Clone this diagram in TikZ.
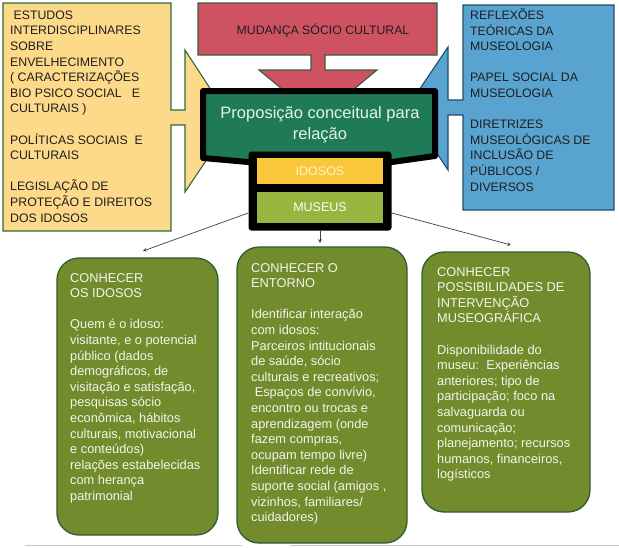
\documentclass[tikz,border=0pt]{standalone}
\usepackage{fontspec}
\setmainfont{Liberation Sans}
\usetikzlibrary{positioning}
\definecolor{callyellow}{HTML}{FDD98A}
\definecolor{yellowbd}{HTML}{2E6B3A}
\definecolor{callred}{HTML}{CF5262}
\definecolor{redbd}{HTML}{3C5A40}
\definecolor{callblue}{HTML}{59A3D0}
\definecolor{bluebd}{HTML}{1F4D6A}
\definecolor{propgreen}{HTML}{1F7A58}
\definecolor{proptext}{HTML}{E4F4E4}
\definecolor{tagyellow}{HTML}{FBC73A}
\definecolor{tagyellowink}{HTML}{FFF2C8}
\definecolor{tagolive}{HTML}{98B540}
\definecolor{olivefill}{HTML}{728C2D}
\definecolor{olivebd}{HTML}{2C5E2E}
\definecolor{boxink}{HTML}{F4F4EA}
\definecolor{inkdark}{HTML}{1E1E1E}
\definecolor{linkgray}{HTML}{404040}
\begin{document}
\begin{tikzpicture}[x=1pt,y=-1pt,>=stealth,
  callout/.style={line width=1.1pt,line join=miter},
  captxt/.style={font=\fontsize{12.3}{15.6}\selectfont,align=left,inner sep=0pt,anchor=north west,text=inkdark},
  greenbox/.style={draw=olivebd,fill=olivefill,line width=1.3pt,rounded corners=22pt,inner sep=0pt},
  boxtxt/.style={font=\fontsize{12.8}{15.6}\selectfont,align=left,inner sep=0pt,anchor=north west,text=boxink},
  tag/.style={minimum width=126,minimum height=26,inner sep=0pt,font=\fontsize{12.5}{15}\selectfont},
  link/.style={draw=linkgray,line width=0.7pt}]
\useasboundingbox (0,0) rectangle (619,547);

\draw[callout,draw=yellowbd,fill=callyellow] (3,3) -- (171,3) -- (171,110) -- (185,110) -- (185,50) -- (232,122) -- (185,192) -- (185,125) -- (171,125) -- (171,231) -- (3,231) -- cycle;
\draw[callout,draw=redbd,fill=callred] (198,3) -- (437,3) -- (437,55) -- (325,55) -- (325,70) -- (377,70) -- (318,119) -- (259,70) -- (311,70) -- (311,55) -- (198,55) -- cycle;
\draw[callout,draw=bluebd,fill=callblue] (463,5) -- (614,5) -- (614,210) -- (463,210) -- (463,115) -- (448,115) -- (448,170) -- (407,108) -- (448,47) -- (448,100) -- (463,100) -- cycle;

\node[captxt] (estudos) at (10,10.5) {\ ESTUDOS\\
INTERDISCIPLINARES\\
SOBRE\\
ENVELHECIMENTO\\
( CARACTERIZAÇÕES\\
BIO PSICO SOCIAL\ \ \ E\\
CULTURAIS )\\[15.6pt]
POLÍTICAS SOCIAIS\ \ E\\
CULTURAIS\\[15.6pt]
LEGISLAÇÃO DE\\
PROTEÇÃO E DIREITOS\\
DOS IDOSOS};
\node[font=\fontsize{12.3}{15}\selectfont,text=inkdark] (mudanca) at (323,30) {MUDANÇA SÓCIO CULTURAL};
\node[captxt] (reflexoes) at (470,8.5) {REFLEXÕES\\
TEÓRICAS DA\\
MUSEOLOGIA\\[15.6pt]
PAPEL SOCIAL DA\\
MUSEOLOGIA\\[15.6pt]
DIRETRIZES\\
MUSEOLÓGICAS DE\\
INCLUSÃO DE\\
PÚBLICOS /\\
DIVERSOS};

\draw[line width=6pt,line join=round,fill=propgreen] (203,91) -- (435,91) -- (435,156) -- (392,162) -- (248,162) -- (203,158) -- cycle;
\node[font=\fontsize{16.5}{21}\selectfont,align=center,text=proptext,inner sep=0pt] (prop) at (320,125) {Proposição conceitual para\\relação};
\node[fill=black,rounded corners=3pt,minimum width=143,minimum height=79,inner sep=0pt] (par) at (320,191) {};
\node[tag,fill=tagyellow,text=tagyellowink] (idosos) at (320,171) {IDOSOS};
\node[tag,fill=tagolive,text=white,minimum height=31] (museus) at (320,207) {MUSEUS};

\node[greenbox,minimum width=161,minimum height=277] (b1) at (137.5,396.5) {};
\node[greenbox,minimum width=170,minimum height=296] (b2) at (322,395) {};
\node[greenbox,minimum width=168,minimum height=260] (b3) at (506,382) {};

\node[boxtxt] (t1txt) at (70,273) {CONHECER\\
OS IDOSOS\\[15.6pt]
Quem é o idoso:\\
visitante, e o potencial\\
público (dados\\
demográficos, de\\
visitação e satisfação,\\
pesquisas sócio\\
econômica, hábitos\\
culturais, motivacional\\
e conteúdos)\\
relações estabelecidas\\
com herança\\
patrimonial};
\node[boxtxt] (t2txt) at (251,263) {CONHECER O\\
ENTORNO\\[15.6pt]
Identificar interação\\
com idosos:\\
Parceiros intitucionais\\
de saúde, sócio\\
culturais e recreativos;\\
\ Espaços de convívio,\\
encontro ou trocas e\\
aprendizagem (onde\\
fazem compras,\\
ocupam tempo livre)\\
Identificar rede de\\
suporte social (amigos ,\\
vizinhos, familiares/\\
cuidadores)};
\node[boxtxt] (t3txt) at (437,267) {CONHECER\\
POSSIBILIDADES DE\\
INTERVENÇÃO\\
MUSEOGRÁFICA\\[15.6pt]
Disponibilidade do\\
museu:\ \ Experiências\\
anteriores; tipo de\\
participação; foco na\\
salvaguarda ou\\
comunicação;\\
planejamento; recursos\\
humanos, financeiros,\\
logísticos};

\coordinate (t1) at (143,251);
\coordinate (t2) at (320,243);
\coordinate (t3) at (511,245);
\draw[link,->] ([yshift=-22pt]par.west) -- (t1);
\draw[link,->] (par.south) -- (t2);
\draw[link,->] ([yshift=-22pt]par.east) -- (t3);

\draw[gray!45,line width=1pt] (25,545.5) -- (242,545.5);
\draw[gray!45,line width=1pt] (290,545.5) -- (619,545.5);
\end{tikzpicture}
\end{document}
